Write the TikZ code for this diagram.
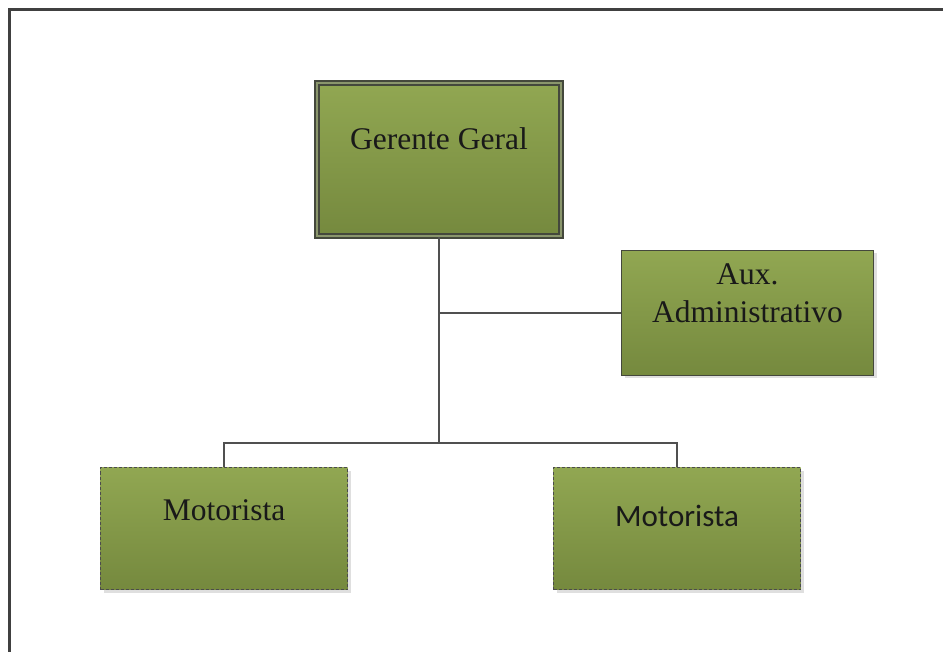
\documentclass[tikz,border=0pt]{standalone}
\usepackage{fontspec}
\setmainfont{Liberation Serif}
\newfontfamily\calib{Carlito}
\usetikzlibrary{shadows}
\definecolor{gtop}{RGB}{145,167,82}
\definecolor{gbot}{RGB}{117,137,62}
\definecolor{edge}{RGB}{68,72,60}
\definecolor{gap}{RGB}{138,150,108}
\definecolor{conn}{RGB}{80,80,80}
\definecolor{frame}{RGB}{64,64,64}
\tikzset{
  box/.style={rectangle, top color=gtop, bottom color=gbot, inner sep=0pt,
    drop shadow={opacity=0.25, shadow xshift=3pt, shadow yshift=-3pt}},
  solidbox/.style={box, draw=edge, line width=1.4pt},
  dblbox/.style={box, draw=edge, line width=1.8pt, double=gap, double distance=2pt},
  dashbox/.style={box, draw=gray!60!black, line width=1.1pt, dash pattern=on 3pt off 2pt},
  lbl/.style={anchor=base, inner sep=0pt, font=\fontsize{31.5}{31.5}\selectfont, text=black!90},
  conline/.style={draw=conn, line width=1.3pt},
}
\begin{document}
\begin{tikzpicture}[x=1pt,y=-1pt]
\useasboundingbox (0,0) rectangle (943,652);
\draw[frame, line width=3pt] (9,660) -- (9,10) -- (950,10);

\node[dblbox, minimum width=244pt, minimum height=153pt] (g) at (439,159.5) {};
\node[solidbox, minimum width=252pt, minimum height=125pt] (a) at (747.5,313) {};
\node[dashbox, minimum width=247pt, minimum height=122pt] (m1) at (224,528.5) {};
\node[dashbox, minimum width=247pt, minimum height=122pt] (m2) at (677,528.5) {};

\node[lbl] (gt) at (439,150) {Gerente Geral};
\node[lbl] (at1) at (747.5,285) {Aux.};
\node[lbl] (at2) at (747.5,323) {Administrativo};
\node[lbl] (m1t) at (224,520) {Motorista};
\node[lbl, font=\calib\fontsize{31}{31}\selectfont] (m2t) at (677,526) {Motorista};

\coordinate (j1) at (g.south |- a.west);
\coordinate (j2) at (g.south |- 0,443);
\draw[conline] (g.south) -- (j2);
\draw[conline] (j1) -- (a.west);
\draw[conline] (m1.north) |- (j2) -| (m2.north);
\end{tikzpicture}
\end{document}
